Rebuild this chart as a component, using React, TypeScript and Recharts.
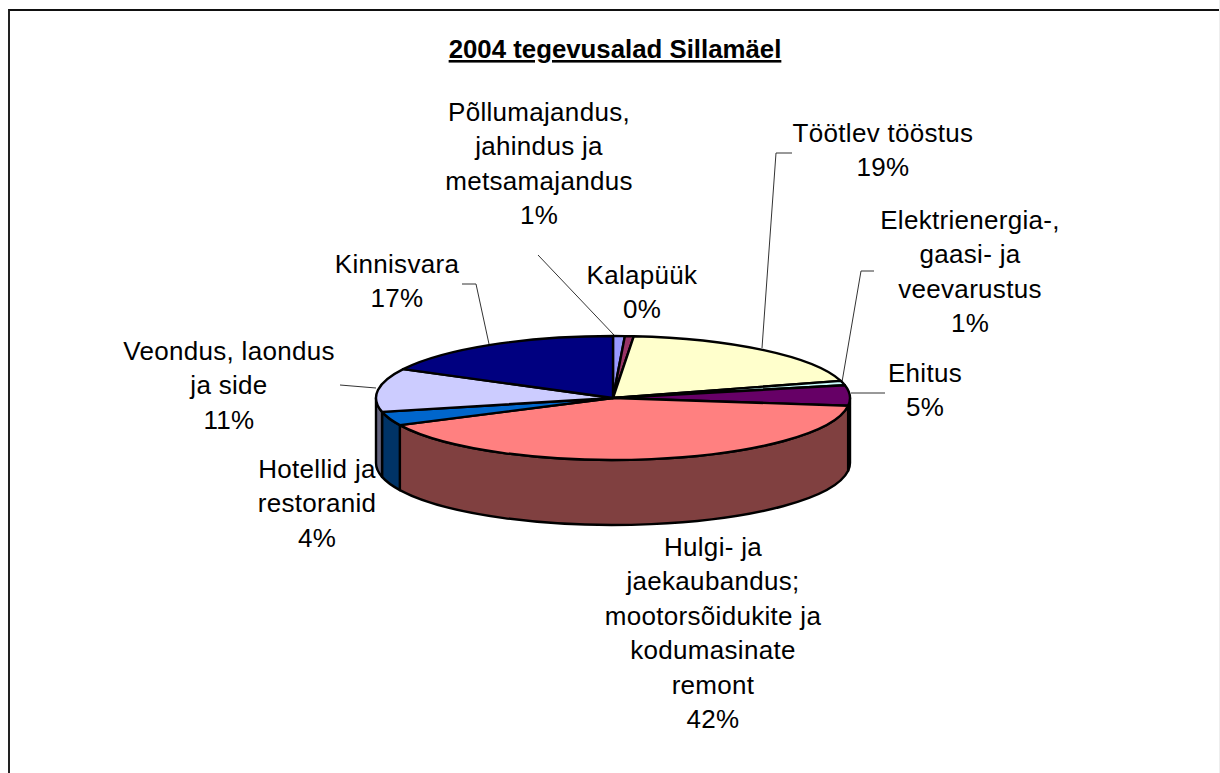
import { PieChart, Pie } from 'recharts';

// Sector values, clockwise from twelve o'clock
const sectorNames = [
  'Põllumajandus, jahindus ja metsamajandus',
  'Kalapüük',
  'Töötlev tööstus',
  'Elektrienergia-, gaasi- ja veevarustus',
  'Ehitus',
  'Hulgi- ja jaekaubandus; mootorsõidukite ja kodumasinate remont',
  'Hotellid ja restoranid',
  'Veondus, laondus ja side',
  'Kinnisvara',
];
const sectorValues = [0.8, 0.6, 19.15, 1.15, 5.3, 40.8, 3.6, 11.3, 17.3];
const percentLabels = ['1%', '0%', '19%', '1%', '5%', '42%', '4%', '11%', '17%'];
const topColors = ['#9999FF', '#993366', '#FFFFCC', '#CCFFFF', '#660066', '#FF8080', '#0066CC', '#CCCCFF', '#000080'];
const wallColors = ['#4D4D80', '#4D1933', '#808066', '#668080', '#330033', '#804040', '#003366', '#666680', '#000040'];

const pieData = sectorNames.map((name, i) => ({ name, value: sectorValues[i], fill: topColors[i] }));

// wrapped label lines and their placement on the page (centre x, first baseline y)
const labelLayout = [
  { lines: ['Põllumajandus,', 'jahindus ja', 'metsamajandus'], x: 539, y: 121 },
  { lines: ['Kalapüük'], x: 642, y: 284 },
  { lines: ['Töötlev tööstus'], x: 883, y: 142 },
  { lines: ['Elektrienergia-,', 'gaasi- ja', 'veevarustus'], x: 970, y: 229 },
  { lines: ['Ehitus'], x: 925, y: 382 },
  { lines: ['Hulgi- ja', 'jaekaubandus;', 'mootorsõidukite ja', 'kodumasinate', 'remont'], x: 713, y: 556 },
  { lines: ['Hotellid ja', 'restoranid'], x: 317, y: 478 },
  { lines: ['Veondus, laondus', 'ja side'], x: 229, y: 360 },
  { lines: ['Kinnisvara'], x: 397, y: 273 },
];
const leaderLines = [
  [[614, 335], [538, 255]],
  null,
  [[762, 348], [776, 153], [792, 153]],
  [[842, 382], [861, 271], [874, 271]],
  [[851, 393], [885, 393]],
  null,
  null,
  [[376, 388], [340, 385]],
  [[489, 344], [476, 284], [462, 284]],
];

const CX = 613;
const CY = 398;
const RX = 237;
const SQUASH = 62 / 237;
const DEPTH = 65;
const LINE_HEIGHT = 34.4;
const RAD = Math.PI / 180;

const pointAt = (angle: number, cx: number, cy: number, r: number) => [
  cx + r * Math.cos(angle * RAD),
  cy - r * SQUASH * Math.sin(angle * RAD),
];

// Recharts hands each sector its angles; flatten them onto the tilted disc
const Sector3D = (props: any) => {
  const { cx, cy, outerRadius: r, startAngle, endAngle, index, fill } = props;
  const ry = r * SQUASH;
  const [x0, y0] = pointAt(startAngle, cx, cy, r);
  const [x1, y1] = pointAt(endAngle, cx, cy, r);
  const large = Math.abs(startAngle - endAngle) > 180 ? 1 : 0;
  const top = `M${cx},${cy} L${x0},${y0} A${r},${ry} 0 ${large} 1 ${x1},${y1} Z`;

  // the wall only shows on the front half, angles -180..0
  const from = Math.min(startAngle, 0);
  const to = Math.max(endAngle, -180);
  let wall = null;
  if (from > to) {
    const [a0, b0] = pointAt(from, cx, cy, r);
    const [a1, b1] = pointAt(to, cx, cy, r);
    const d = `M${a0},${b0} A${r},${ry} 0 0 1 ${a1},${b1} L${a1},${b1 + DEPTH} A${r},${ry} 0 0 0 ${a0},${b0 + DEPTH} Z`;
    wall = <path d={d} fill={wallColors[index]} stroke="#000" strokeWidth={2.4} strokeLinejoin="round" />;
  }
  return (
    <g>
      {wall}
      <path d={top} fill={fill} stroke="#000" strokeWidth={2.4} strokeLinejoin="round" />
    </g>
  );
};

const Labels = () => (
  <g fontFamily="Liberation Sans, Arial, sans-serif" fontSize={26} letterSpacing={0.3} fill="#000">
    {leaderLines.map((pts, i) =>
      pts ? (
        <polyline key={i} points={pts.map((p) => p.join(',')).join(' ')} fill="none" stroke="#333" strokeWidth={1} />
      ) : null
    )}
    {labelLayout.map((l, i) => (
      <text key={i} textAnchor="middle">
        {[...l.lines, percentLabels[i]].map((t, j) => (
          <tspan key={j} x={l.x} y={l.y + j * LINE_HEIGHT}>{t}</tspan>
        ))}
      </text>
    ))}
  </g>
);

export default function App() {
  return (
    <div style={{ position: 'absolute', left: 0, top: 0, width: 1220, height: 773, overflow: 'hidden', background: '#fff' }}>
      <div style={{ position: 'absolute', left: 8, top: 9, width: 1212, height: 800, borderLeft: '2px solid #222', borderTop: '2px solid #111', boxSizing: 'border-box' }} />
      <div style={{ position: 'absolute', left: 1219, top: 0, width: 1, height: 773, background: '#eee' }} />
      <div style={{ position: 'absolute', left: 0, top: 0 }}>
        <PieChart width={1220} height={773} margin={{ top: 0, right: 0, bottom: 0, left: 0 }}>
          <text x={615} y={58} textAnchor="middle" fontFamily="Liberation Sans, Arial, sans-serif" fontSize={25.8} fontWeight="bold" textDecoration="underline" fill="#000">
            2004 tegevusalad Sillamäel
          </text>
          <Pie
            data={pieData}
            dataKey="value"
            nameKey="name"
            cx={CX}
            cy={CY}
            outerRadius={RX}
            startAngle={90}
            endAngle={-270}
            paddingAngle={0}
            isAnimationActive={false}
            shape={Sector3D}
            label={false}
            labelLine={false}
          />
          <Labels />
        </PieChart>
      </div>
    </div>
  );
}
